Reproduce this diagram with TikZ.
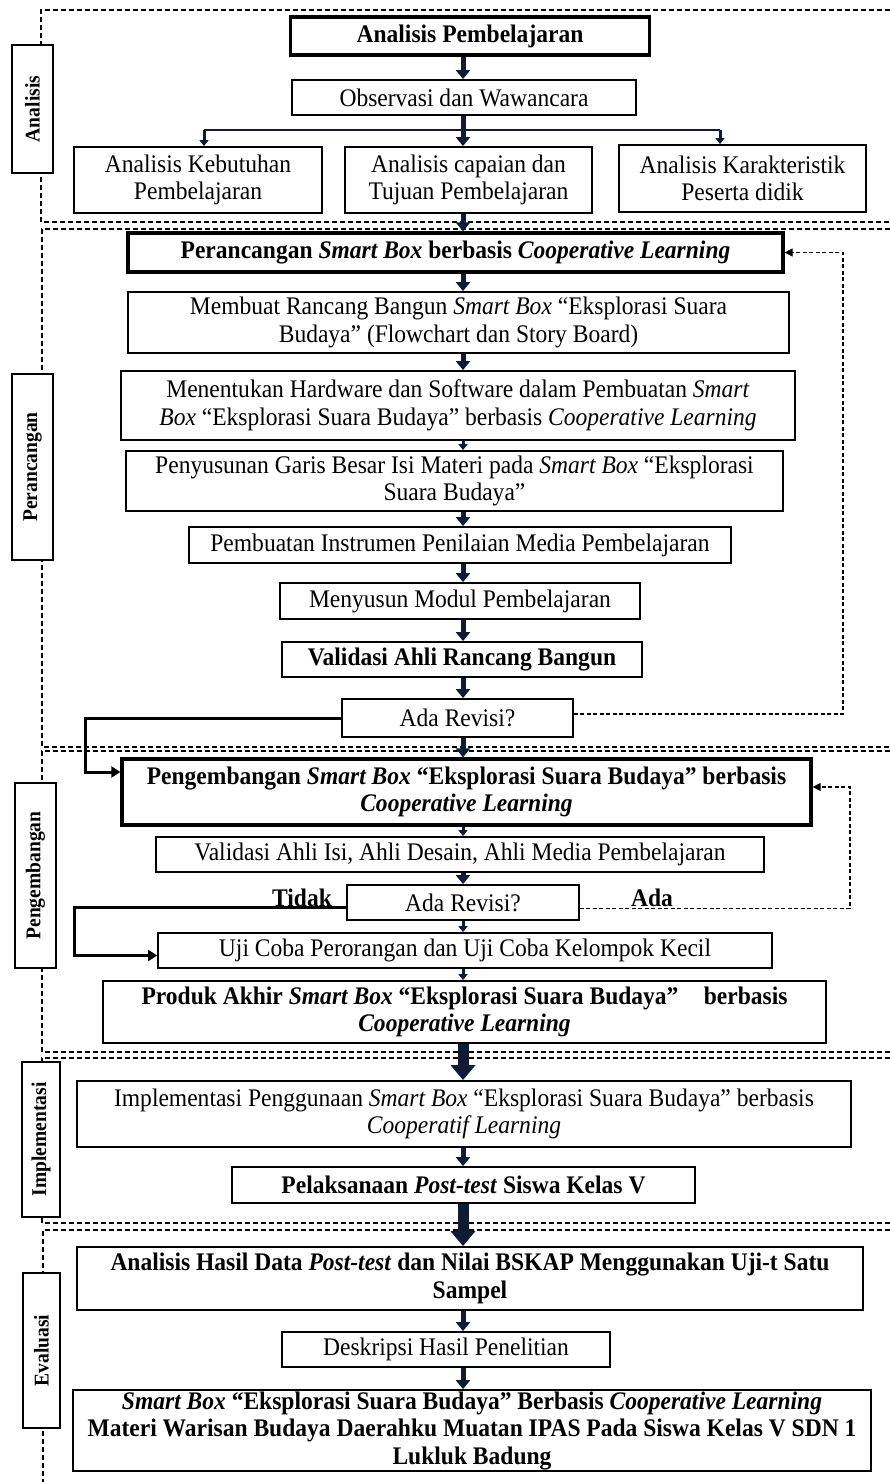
\documentclass[tikz,border=0pt]{standalone}
\usepackage{fontspec}
\setmainfont{Liberation Serif}[FakeStretch=0.93]
\usetikzlibrary{arrows.meta,calc}
\definecolor{navy}{RGB}{16,26,52}
\begin{document}
\fontsize{25.3}{27.5}\selectfont
\begin{tikzpicture}[x=1pt,y=-1pt,
  sec/.style={draw=black, line width=1.5pt, dash pattern=on 5pt off 3pt},
  box/.style={draw=black, line width=1.8pt, fill=white, inner sep=0pt, align=center},
  tbox/.style={box, line width=3.2pt},
  lab/.style={draw=black, line width=1.8pt, fill=white, inner sep=0pt, rotate=90, font=\fontsize{21}{22}\selectfont\bfseries},
  arrN/.style={draw=navy, line width=5pt, -{Triangle[width=14pt,length=9pt]}},
  arrS/.style={draw=navy, line width=3pt, -{Triangle[width=9pt,length=6pt]}},
  arrB/.style={draw=navy, line width=11pt, -{Triangle[width=24pt,length=15pt]}},
  solidarr/.style={draw=black, line width=3pt, -{Triangle[width=11pt,length=9pt]}},
  fbarr/.style={draw=black, line width=1.2pt, dash pattern=on 4pt off 2.5pt, -{Triangle[width=8pt,length=8pt]}},
  lbl/.style={font=\bfseries, inner sep=0pt, anchor=base}
]
\useasboundingbox (0,0) rectangle (890,1482);

% section frames
\draw[sec] (890,10) -- (41,10) -- (41,222) -- (890,222);
\draw[sec] (890,229) -- (42,229) -- (42,747) -- (890,747);
\draw[sec] (890,751) -- (42,751) -- (42,1052) -- (890,1052);
\draw[sec] (890,1058) -- (42,1058) -- (42,1223) -- (890,1223);
\draw[sec] (890,1230) -- (43,1230) -- (43,1482);

% phase labels
\node[lab, minimum width=128pt, minimum height=41pt] (la) at (32.5,109) {Analisis};
\node[lab, minimum width=186pt, minimum height=41pt] (lp) at (32.5,467) {Perancangan};
\node[lab, minimum width=185pt, minimum height=41pt] (lg) at (35.5,875.5) {Pengembangan};
\node[lab, minimum width=155pt, minimum height=38pt] (li) at (41,1139.5) {Implementasi};
\node[lab, minimum width=155pt, minimum height=37pt] (le) at (41.5,1350.5) {Evaluasi};

% Analisis
\node[tbox, minimum width=359pt, minimum height=38pt, font=\bfseries] (ap) at (470,36) {Analisis Pembelajaran};
\node[box, minimum width=344pt, minimum height=35pt] (obs) at (464,97.5) {Observasi dan Wawancara};
\node[box, minimum width=248pt, minimum height=66pt] (k1) at (198,180) {Analisis Kebutuhan\\Pembelajaran};
\node[box, minimum width=247pt, minimum height=66pt] (k2) at (468.5,180) {Analisis capaian dan\\Tujuan Pembelajaran};
\node[box, minimum width=247pt, minimum height=67pt] (k3) at (742.5,178.5) {Analisis Karakteristik\\Peserta didik};

% Perancangan
\node[tbox, minimum width=655pt, minimum height=39pt, font=\bfseries] (pr) at (455.5,252.5) {Perancangan \textit{Smart Box} berbasis \textit{Cooperative Learning}};
\node[box, minimum width=661pt, minimum height=61pt] (m1) at (458.5,322.5) {Membuat Rancang Bangun \textit{Smart Box} “Eksplorasi Suara\\Budaya” (Flowchart dan Story Board)};
\node[box, minimum width=674pt, minimum height=69pt] (m2) at (458,405.5) {Menentukan Hardware dan Software dalam Pembuatan \textit{Smart}\\\textit{Box} “Eksplorasi Suara Budaya” berbasis \textit{Cooperative Learning}};
\node[box, minimum width=657pt, minimum height=60pt] (m3) at (454.5,481) {Penyusunan Garis Besar Isi Materi pada \textit{Smart Box} “Eksplorasi\\Suara Budaya”};
\node[box, minimum width=542pt, minimum height=36pt] (m4) at (460,545) {Pembuatan Instrumen Penilaian Media Pembelajaran};
\node[box, minimum width=360pt, minimum height=36pt] (m5) at (460,601) {Menyusun Modul Pembelajaran};
\node[box, minimum width=360pt, minimum height=35pt, font=\bfseries] (m6) at (462,659.5) {Validasi Ahli Rancang Bangun};
\node[box, minimum width=231pt, minimum height=38pt] (r1) at (457.5,718) {Ada Revisi?};

% Pengembangan
\node[tbox, minimum width=689pt, minimum height=66pt, font=\bfseries] (pg) at (466.5,792) {Pengembangan \textit{Smart Box} “Eksplorasi Suara Budaya” berbasis\\\textit{Cooperative Learning}};
\node[box, minimum width=608pt, minimum height=35pt] (v) at (460,854.5) {Validasi Ahli Isi, Ahli Desain, Ahli Media Pembelajaran};
\node[box, minimum width=232pt, minimum height=35pt] (r2) at (463,902.5) {Ada Revisi?};
\node[box, minimum width=614pt, minimum height=35pt] (uji) at (465,950.5) {Uji Coba Perorangan dan Uji Coba Kelompok Kecil};
\node[box, minimum width=723pt, minimum height=62pt, font=\bfseries] (prod) at (464.5,1012) {Produk Akhir \textit{Smart Box} “Eksplorasi Suara Budaya”\quad berbasis\\\textit{Cooperative Learning}};
\node[lbl] (tidak) at (302,906) {Tidak};
\node[lbl] (ada) at (652,906) {Ada};

% Implementasi
\node[box, minimum width=774pt, minimum height=66pt] (imp) at (464,1114) {Implementasi Penggunaan \textit{Smart Box} “Eksplorasi Suara Budaya” berbasis\\\textit{Cooperatif Learning}};
\node[box, minimum width=463pt, minimum height=36pt, font=\bfseries] (pel) at (463.5,1185) {Pelaksanaan \textit{Post-test} Siswa Kelas V};

% Evaluasi
\node[box, minimum width=786pt, minimum height=63pt, font=\bfseries] (ah) at (470,1278.5) {Analisis Hasil Data \textit{Post-test} dan Nilai BSKAP Menggunakan Uji-t Satu\\Sampel};
\node[box, minimum width=328pt, minimum height=35pt] (des) at (446,1349.5) {Deskripsi Hasil Penelitian};
\node[box, minimum width=798pt, minimum height=81pt, font=\bfseries] (fin) at (472,1430.5) {\textit{Smart Box} “Eksplorasi Suara Budaya” Berbasis \textit{Cooperative Learning}\\Materi Warisan Budaya Daerahku Muatan IPAS Pada Siswa Kelas V SDN 1\\Lukluk Badung};

% arrows
\coordinate (ax) at (463,0);
\coordinate (bl) at (204,130);
\coordinate (brt) at (720,130);
\draw[arrN] (ap.south -| ax) -- (obs.north -| ax);
\draw[draw=navy, line width=2.5pt] (bl) -- (brt);
\draw[arrN] (obs.south -| ax) -- (k2.north -| ax);
\draw[arrS] (bl) -- (bl |- k1.north);
\draw[arrS] (brt) -- (brt |- k3.north);
\draw[arrN] (k2.south -| ax) -- (pr.north -| ax);
\draw[arrN] (pr.south -| ax) -- (m1.north -| ax);
\draw[arrN] (m1.south -| ax) -- (m2.north -| ax);
\draw[arrS] (m2.south -| ax) -- (m3.north -| ax);
\draw[arrN] (m3.south -| ax) -- (m4.north -| ax);
\draw[arrN] (m4.south -| ax) -- (m5.north -| ax);
\draw[arrN] (m5.south -| ax) -- (m6.north -| ax);
\draw[arrN] (m6.south -| ax) -- (r1.north -| ax);
\draw[arrN] (r1.south -| ax) -- (pg.north -| ax);
\draw[arrS] (pg.south -| ax) -- (v.north -| ax);
\draw[arrN] (v.south -| ax) -- (r2.north -| ax);
\draw[arrS] (r2.south -| ax) -- (uji.north -| ax);
\draw[arrS] (uji.south -| ax) -- (prod.north -| ax);
\draw[arrB] (prod.south -| ax) -- (imp.north -| ax);
\draw[arrN] (imp.south -| ax) -- (pel.north -| ax);
\draw[arrB] (pel.south -| ax) -- (ah.north -| ax);
\draw[arrN] (ah.south -| ax) -- (des.north -| ax);
\draw[arrN] (des.south -| ax) -- (fin.north -| ax);

% loops
\coordinate (s1) at (85,0);
\coordinate (s2) at (74,0);
\coordinate (f1) at (843,0);
\coordinate (f2) at (850,0);
\draw[solidarr] (r1.west) -- (r1.west -| s1) |- ([yshift=20pt]pg.west);
\draw[solidarr] ([yshift=-5pt]r2.west) -- ([yshift=-5pt]r2.west -| s2) |- ([yshift=-5pt]uji.west);
\draw[fbarr] ([yshift=4pt]r1.east) -- ([yshift=4pt]r1.east -| f1) |- (pr.east);
\draw[fbarr] ([yshift=-6pt]r2.east) -- ([yshift=-6pt]r2.east -| f2) |- ([yshift=5pt]pg.east);
\end{tikzpicture}
\end{document}
